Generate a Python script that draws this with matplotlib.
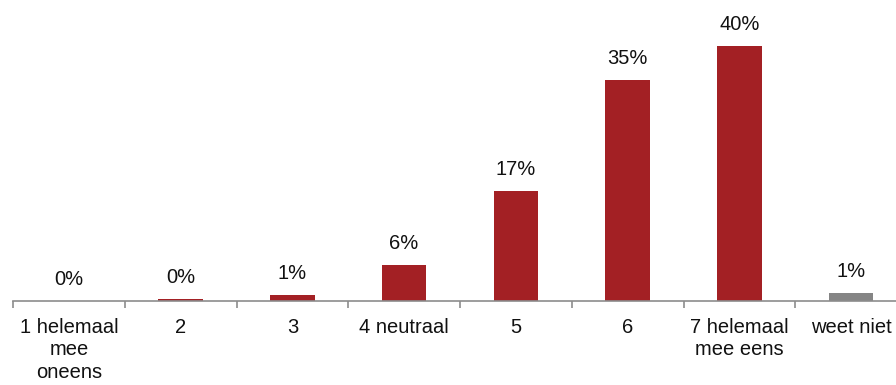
import matplotlib
matplotlib.use("Agg")
import matplotlib.pyplot as plt
from matplotlib.ticker import FixedLocator

plt.rcParams['font.family'] = ['Liberation Sans', 'DejaVu Sans']

categories = ["1 helemaal\nmee\noneens", "2", "3", "4 neutraal", "5", "6",
              "7 helemaal\nmee eens", "weet niet"]
values = [0.0, 0.3, 0.9, 5.6, 17.3, 34.6, 40.0, 1.2]
colors = ["#A32024"] * 7 + ["#858585"]

fig = plt.figure(figsize=(8.96, 3.85), dpi=100)
ax = fig.add_axes([13 / 896, 84 / 385, 894 / 896, 301 / 385])

x = list(range(len(categories)))
bars = ax.bar(x, values, width=0.4, color=colors, zorder=2)

for xi, v in zip(x, values):
    ax.text(xi, v + 1.9, f"{v:.0f}%", ha="center", va="bottom",
            fontsize=14.5, color="#111111")

ax.set_xlim(-0.5, len(categories) - 0.5)
ax.set_ylim(0, 47.2)

for side in ("top", "right", "left"):
    ax.spines[side].set_visible(False)
ax.spines["bottom"].set_color("#8c8c8c")
ax.spines["bottom"].set_linewidth(1.2)

ax.set_yticks([])
ax.xaxis.set_major_locator(FixedLocator(x))
ax.set_xticklabels(categories, fontsize=14.5, color="#111111", linespacing=1.24)
ax.tick_params(axis="x", which="major", length=0, pad=12)
ax.xaxis.set_minor_locator(FixedLocator([i - 0.5 for i in range(len(categories) + 1)]))
ax.tick_params(axis="x", which="minor", length=5, width=1.2, color="#8c8c8c",
               direction="out")

fig.savefig("out.png", dpi=100)
